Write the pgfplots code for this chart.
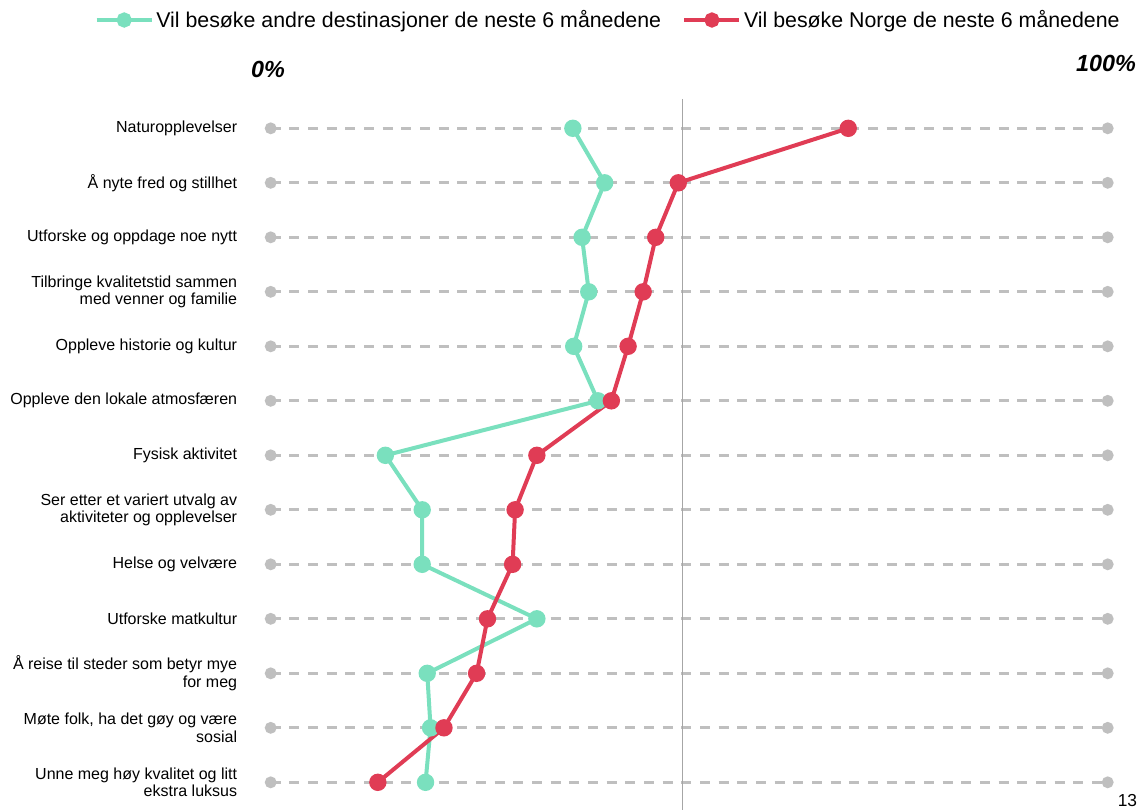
\documentclass[border=0pt]{standalone}
\usepackage{fontspec}
\setmainfont{Liberation Sans}
\usepackage{pgfplots}
\pgfplotsset{compat=1.18}
\definecolor{teal1}{HTML}{7AE0BE}
\definecolor{red1}{HTML}{E03C55}
\definecolor{dotgray}{HTML}{BFBFBF}
\definecolor{vgray}{HTML}{A6A6A6}
\begin{document}
\begin{tikzpicture}
\begin{axis}[
  at={(203.03pt,-586.73pt)}, anchor=south west,
  scale only axis, width=627.75pt, height=490.5pt,
  xmin=0, xmax=100, ymin=1, ymax=13, y dir=reverse,
  axis line style={draw=none}, major tick length=0pt, tick style={draw=none}, clip=false,
  ytick={1,...,13}, xtick=\empty,
  yticklabels={Naturopplevelser, Å nyte fred og stillhet, Utforske og oppdage noe nytt,
    {Tilbringe kvalitetstid sammen\\med venner og familie}, Oppleve historie og kultur,
    Oppleve den lokale atmosfæren, Fysisk aktivitet,
    {Ser etter et variert utvalg av\\aktiviteter og opplevelser}, Helse og velvære,
    Utforske matkultur, {Å reise til steder som betyr mye\\for meg},
    {Møte folk, ha det gøy og være\\sosial}, {Unne meg høy kvalitet og litt\\ekstra luksus}},
  yticklabel style={align=right, anchor=east, inner sep=0pt, xshift=-25pt,
    font=\fontsize{12}{13}\selectfont},
  legend style={at={(0.4036,1.1656)}, anchor=center, draw=none, legend columns=2,
    font=\fontsize{16}{18}\selectfont, column sep=0pt,
    /tikz/every even column/.append style={column sep=14pt}},
  legend image code/.code={\draw[mark repeat=2,mark phase=2,#1,mark size=4.2pt] plot coordinates {(0pt,0pt) (20.6pt,0pt) (41.2pt,0pt)};},
]
\pgfplotsinvokeforeach{1,...,13}{
  \addplot[forget plot, dotgray, line width=2.2pt, dash pattern=on 7.5pt off 6.5pt,
    mark=*, mark size=3.3pt, mark options={solid, fill=dotgray, draw=none}]
    coordinates {(0,#1) (100,#1)};
}
\draw[vgray, line width=0.75pt] (axis cs:49.2,0.46) -- (axis cs:49.2,13.51);
\addplot[teal1, line width=3pt, mark=*, mark size=5pt, mark options={fill=teal1, draw=none}]
  coordinates {
  (36.1,1) (39.9,2) (37.2,3) (38.0,4) (36.2,5) (39.1,6) (13.7,7)
  (18.1,8) (18.1,9) (31.8,10) (18.7,11) (19.1,12) (18.5,13)};
\addlegendentry{Vil besøke andre destinasjoner de neste 6 månedene}
\addplot[red1, line width=3pt, mark=*, mark size=5pt, mark options={fill=red1, draw=none}]
  coordinates {
  (69.0,1) (48.7,2) (46.0,3) (44.5,4) (42.7,5) (40.7,6) (31.8,7)
  (29.2,8) (28.9,9) (25.9,10) (24.6,11) (20.7,12) (12.8,13)};
\addlegendentry{Vil besøke Norge de neste 6 månedene}
\end{axis}
\node[font=\fontsize{17.5}{20}\selectfont\bfseries\itshape] at (201pt,-51.75pt) {0\%};
\node[font=\fontsize{17.5}{20}\selectfont\bfseries\itshape] at (829.5pt,-47.25pt) {100\%};
\node[font=\fontsize{13}{15}\selectfont, anchor=south east, inner sep=0pt] at (853pt,-605pt) {13};
\pgfresetboundingbox
\path[use as bounding box] (0pt,0pt) rectangle (854.25pt,-607.5pt);
\end{tikzpicture}
\end{document}
